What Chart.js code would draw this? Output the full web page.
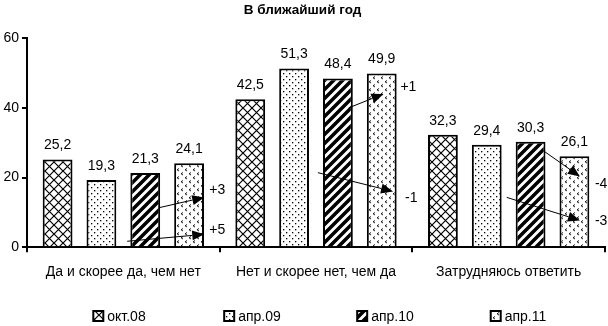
<!DOCTYPE html>
<html>
<head>
<meta charset="utf-8">
<script src="https://cdn.jsdelivr.net/npm/chart.js@4.4.0/dist/chart.umd.min.js"></script>
<style>
  html, body { margin: 0; padding: 0; background: #fff; }
  #wrap { width: 608px; height: 326px; position: relative; }
</style>
</head>
<body>
<div id="wrap"><canvas id="graphicYear"></canvas></div>
<script>
// В ближайший год - сгруппированные столбцы
const categories = ['Да и скорее да, чем нет', 'Нет и скорее нет, чем да', 'Затрудняюсь ответить'];
const seriesNames = ['окт.08', 'апр.09', 'апр.10', 'апр.11'];
const okt08 = [25.2, 42.5, 32.3];
const apr09 = [19.3, 51.3, 29.4];
const apr10 = [21.3, 48.4, 30.3];
const apr11 = [24.1, 49.9, 26.1];
const yTicks = [0, 20, 40, 60];
const changeLabels = ['+3', '+5', '+1', '-1', '-4', '-3'];

// arrows: category, start offset/value, end offset/value (offset in category widths), label shift px
const arrowDefs = [
  { cat: 0, x0: 0.19, y0: 11.4, x1: 0.42, y1: 14.3, lx: 5,  ly: -7 },
  { cat: 0, x0: 0.02, y0: 1.7,  x1: 0.42, y1: 3.7,  lx: 5,  ly: -4 },
  { cat: 1, x0: 0.17, y0: 40.0, x1: 0.35, y1: 44.0, lx: 17, ly: -7 },
  { cat: 1, x0: 0.01, y0: 21.4, x1: 0.40, y1: 16.0, lx: 12, ly: 7 },
  { cat: 2, x0: 0.18, y0: 27.7, x1: 0.37, y1: 20.3, lx: 15, ly: 8 },
  { cat: 2, x0: -0.01, y0: 14.3, x1: 0.37, y1: 7.7, lx: 15, ly: 1 }
];

const FONT = 'Liberation Sans, Arial, sans-serif';

function makePattern(kind){
  var c = document.createElement('canvas');
  var s = 9;
  if (kind == 'dots') s = 6;
  if (kind == 'chevron') s = 8;
  c.width = s; c.height = s;
  var g = c.getContext('2d');
  g.fillStyle = '#fff';
  g.fillRect(0, 0, s, s);
  g.strokeStyle = '#000';
  g.fillStyle = '#000';
  if (kind == 'cross') {
    g.lineWidth = 1.2;
    g.beginPath();
    g.moveTo(0, 0); g.lineTo(s, s);
    g.moveTo(s, 0); g.lineTo(0, s);
    g.stroke();
  } else if (kind == 'dots') {
    g.fillRect(1, 1, 1.3, 1.3);
    g.fillRect(4, 4, 1.3, 1.3);
  } else if (kind == 'stripes') {
    g.lineWidth = 3.5;
    g.beginPath();
    g.moveTo(-3, s + 3); g.lineTo(s + 3, -3);
    g.moveTo(-3, 3); g.lineTo(3, -3);
    g.moveTo(s - 3, s + 3); g.lineTo(s + 3, s - 3);
    g.stroke();
  } else if (kind == 'chevron') {
    g.lineWidth = 1;
    g.strokeStyle = '#222';
    g.beginPath();
    g.moveTo(3, 0.5); g.lineTo(1, 1.8); g.lineTo(3, 3);
    g.moveTo(7, 4.5); g.lineTo(5, 5.8); g.lineTo(7, 7);
    g.stroke();
  }
  return g.createPattern(c, 'repeat');
}

const fills = [makePattern('cross'), makePattern('dots'), makePattern('stripes'), makePattern('chevron')];
const allSeries = [okt08, apr09, apr10, apr11];

const valueLabels = {
  id: 'valueLabels',
  afterDatasetsDraw(chart){
    var ctx = chart.ctx;
    ctx.save();
    ctx.font = '14px ' + FONT;
    ctx.fillStyle = '#000';
    ctx.textAlign = 'center';
    ctx.textBaseline = 'bottom';
    chart.data.datasets.forEach(function(ds, i){
      var meta = chart.getDatasetMeta(i);
      meta.data.forEach(function(bar, j){
        ctx.fillText(String(ds.data[j]).replace('.', ','), bar.x, bar.y - 7);
      });
    });
    ctx.restore();
  }
};

const changeArrows = {
  id: 'changeArrows',
  afterDatasetsDraw(chart){
    var ctx = chart.ctx;
    var xs = chart.scales.x, ys = chart.scales.y;
    var cw = xs.getPixelForValue(1) - xs.getPixelForValue(0);
    ctx.save();
    ctx.strokeStyle = '#000';
    ctx.fillStyle = '#000';
    ctx.lineWidth = 1;
    ctx.font = '14px ' + FONT;
    ctx.textBaseline = 'middle';
    arrowDefs.forEach(function(a, k){
      var cx = xs.getPixelForValue(a.cat);
      var x0 = cx + a.x0 * cw, y0 = ys.getPixelForValue(a.y0);
      var x1 = cx + a.x1 * cw, y1 = ys.getPixelForValue(a.y1);
      var ang = Math.atan2(y1 - y0, x1 - x0);
      var len = 12, half = 5;
      var bx = x1 - len * Math.cos(ang), by = y1 - len * Math.sin(ang);
      ctx.beginPath();
      ctx.moveTo(x0, y0);
      ctx.lineTo(bx, by);
      ctx.stroke();
      ctx.beginPath();
      ctx.moveTo(x1, y1);
      ctx.lineTo(bx - half * Math.sin(ang), by + half * Math.cos(ang));
      ctx.lineTo(bx + half * Math.sin(ang), by - half * Math.cos(ang));
      ctx.closePath();
      ctx.fill();
      ctx.textAlign = 'left';
      ctx.fillText(changeLabels[k], x1 + a.lx, y1 + a.ly);
    });
    ctx.restore();
  }
};

// legend drawn by hand so the wide spacing does not eat the plot height
const bottomLegend = {
  id: 'bottomLegend',
  afterDraw(chart){
    var ctx = chart.ctx;
    var step = 133;
    var mid = (chart.chartArea.left + chart.chartArea.right) / 2 + 3;
    var y = chart.height - 10;
    ctx.save();
    ctx.font = '14px ' + FONT;
    ctx.textBaseline = 'middle';
    ctx.textAlign = 'left';
    chart.data.datasets.forEach(function(ds, i){
      var tw = ctx.measureText(ds.label).width;
      var w = 10 + 4 + tw;
      var x = mid + (i - 1.5) * step - w / 2;
      ctx.fillStyle = ds.backgroundColor;
      ctx.fillRect(x, y - 5, 10, 10);
      ctx.strokeStyle = '#000';
      ctx.lineWidth = 2;
      ctx.strokeRect(x, y - 5, 10, 10);
      ctx.fillStyle = '#000';
      ctx.fillText(ds.label, x + 14, y + 1);
    });
    ctx.restore();
  }
};

let chart1;
function getDrawGraphic(){
  var ctx = document.getElementById('graphicYear').getContext('2d');
  if (chart1) {
    chart1.destroy();
  }
  chart1 = new Chart(ctx, {
    type: 'bar',
    data: {
      labels: categories,
      datasets: allSeries.map(function(vals, i){
        return {
          label: seriesNames[i],
          data: vals,
          backgroundColor: fills[i],
          borderColor: '#000',
          borderWidth: 2,
          barPercentage: 0.68,
          categoryPercentage: 0.91
        };
      })
    },
    plugins: [valueLabels, changeArrows, bottomLegend],
    options: {
      responsive: false,
      animation: false,
      devicePixelRatio: 1,
      layout: { padding: { left: 0, right: 3, top: 0, bottom: 33 } },
      plugins: {
        title: {
          display: true,
          text: 'В ближайший год',
          color: '#000',
          font: { family: FONT, size: 13.5, weight: 'bold' },
          padding: { top: 2, bottom: 20 }
        },
        legend: { display: false },
        tooltip: { enabled: false }
      },
      scales: {
        x: {
          grid: { display: true, drawOnChartArea: false, drawTicks: true, tickLength: 5, color: '#000', lineWidth: 2 },
          border: { color: '#000', width: 2 },
          ticks: { color: '#000', font: { family: FONT, size: 14 }, padding: 12, maxRotation: 0 }
        },
        y: {
          min: 0,
          max: 60,
          afterBuildTicks: function(axis){ axis.ticks = yTicks.map(function(v){ return { value: v }; }); },
          afterFit: function(axis){ axis.width = 27; },
          grid: { display: true, drawOnChartArea: false, drawTicks: true, tickLength: 5, color: '#000', lineWidth: 2 },
          border: { color: '#000', width: 2 },
          ticks: { color: '#000', font: { family: FONT, size: 14 }, padding: 3 }
        }
      }
    }
  });
}

document.getElementById('graphicYear').width = 608;
document.getElementById('graphicYear').height = 326;
getDrawGraphic();
</script>
</body>
</html>
